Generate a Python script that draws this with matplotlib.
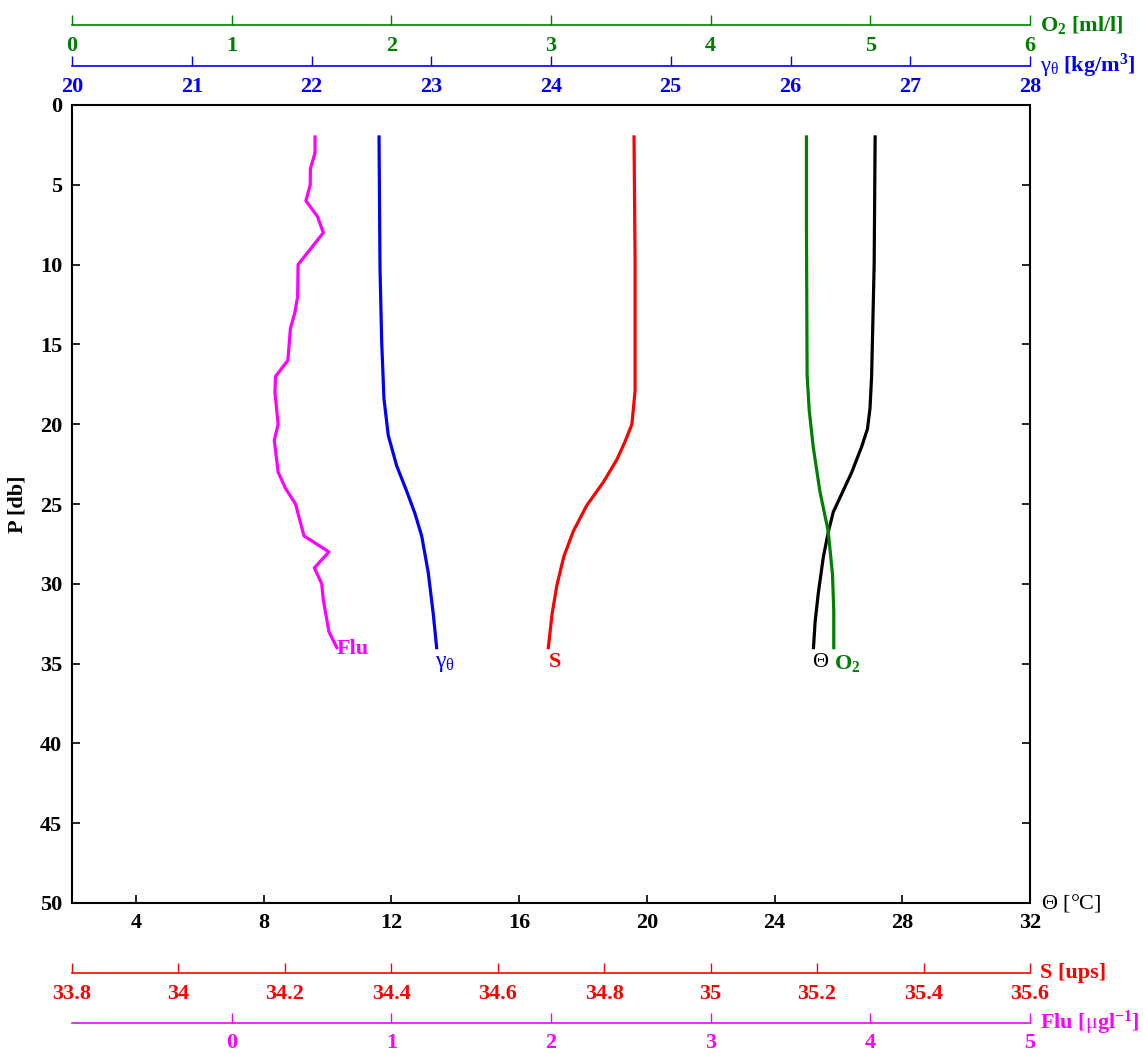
import matplotlib
matplotlib.use("Agg")
import matplotlib.pyplot as plt

plt.rcParams['font.family'] = ['Liberation Serif', 'DejaVu Serif']
plt.rcParams['mathtext.fontset'] = 'custom'
plt.rcParams['mathtext.rm'] = 'Liberation Serif'
plt.rcParams['mathtext.it'] = 'Liberation Serif:italic'
plt.rcParams['mathtext.bf'] = 'Liberation Serif:bold'

# ---------------- data ----------------
# Theta (potential temperature, degC)
theta_p = [2, 10, 17, 19, 20.3, 21.4, 23, 24.6, 25.5, 26.7, 28.3, 30.6, 32.4, 34]
theta_v = [27.15, 27.12, 27.04, 26.99, 26.91, 26.73, 26.42, 26.05, 25.84, 25.69, 25.53, 25.37, 25.27, 25.22]

# O2 (ml/l)
o2_p = [2, 7.7, 16.9, 19.1, 21.4, 24.2, 26.7, 29.4, 31.7, 34]
o2_v = [4.600, 4.600, 4.604, 4.617, 4.642, 4.684, 4.736, 4.763, 4.771, 4.771]

# gamma_theta (kg/m3)
gam_p = [2, 10.2, 14.8, 18.4, 20.7, 22.6, 24.2, 25.6, 27, 29.3, 31.9, 34]
gam_v = [22.564, 22.572, 22.586, 22.605, 22.641, 22.711, 22.795, 22.864, 22.920, 22.975, 23.017, 23.045]

# Salinity (ups)
sal_p = [2, 9.9, 17.9, 20, 21.1, 22.2, 23.6, 25.1, 26.7, 28.3, 30.1, 31.9, 34]
sal_v = [34.856, 34.858, 34.858, 34.852, 34.839, 34.824, 34.799, 34.767, 34.742, 34.724, 34.711, 34.702, 34.695]

# Fluorescence (ug/l)
flu_p = [2, 3, 4, 5, 6, 7, 8, 10, 12, 13, 14, 16, 17, 18, 20, 21, 23, 24, 25, 27, 28, 29, 30, 31, 33, 34]
flu_v = [0.522, 0.522, 0.493, 0.492, 0.465, 0.538, 0.574, 0.416, 0.413, 0.396, 0.368, 0.352, 0.275,
         0.271, 0.291, 0.267, 0.291, 0.336, 0.400, 0.453, 0.609, 0.518, 0.564, 0.574, 0.609, 0.659]

# axis ranges / ticks
theta_lim = (2, 32); theta_ticks = [4, 8, 12, 16, 20, 24, 28, 32]
p_lim = (50, 0); p_ticks = [0, 5, 10, 15, 20, 25, 30, 35, 40, 45, 50]
o2_lim = (0, 6); o2_ticks = [0, 1, 2, 3, 4, 5, 6]
gam_lim = (20, 28); gam_ticks = [20, 21, 22, 23, 24, 25, 26, 27, 28]
sal_lim = (33.8, 35.6); sal_ticks = [33.8, 34, 34.2, 34.4, 34.6, 34.8, 35, 35.2, 35.4, 35.6]
sal_labels = ['33.8', '34', '34.2', '34.4', '34.6', '34.8', '35', '35.2', '35.4', '35.6']
flu_lim = (-1, 5); flu_ticks = [0, 1, 2, 3, 4, 5]

C_O2 = '#008000'
C_GAM = '#0000ff'
C_SAL = '#ff0000'
C_FLU = '#ff00ff'

W, H = 1143, 1054
fig = plt.figure(figsize=(W / 100, H / 100), dpi=100)

L = 72 / W
R = 1030 / W
TOP = 1 - 105 / H
BOT = 1 - 903 / H

FS = 16

ax = fig.add_axes([L, BOT, R - L, TOP - BOT])
ax.set_xlim(*theta_lim)
ax.set_ylim(*p_lim)
ax.set_xticks(theta_ticks)
ax.set_yticks(p_ticks)
ax.tick_params(direction='in', top=True, right=True, length=6, width=1.2, labelsize=FS, pad=7)
for lab in ax.get_xticklabels() + ax.get_yticklabels():
    lab.set_fontweight('bold')
for s in ax.spines.values():
    s.set_linewidth(1.5)
ax.set_ylabel('P [db]', fontsize=FS, fontweight='bold')
ax.yaxis.set_label_coords(-0.046, 0.5)
ax.text(1.012, 0.0, r'$\Theta$ [°C]', transform=ax.transAxes, fontsize=FS, va='center', ha='left')

LW = 2.3
ax.plot(theta_v, theta_p, color='black', lw=LW)


def overlay(lim):
    a = ax.twiny()
    a.set_xlim(*lim)
    a.set_ylim(*p_lim)
    a.axis('off')
    return a


ao2 = overlay(o2_lim)
ao2.plot(o2_v, o2_p, color=C_O2, lw=LW)
agm = overlay(gam_lim)
agm.plot(gam_v, gam_p, color=C_GAM, lw=LW)
asl = overlay(sal_lim)
asl.plot(sal_v, sal_p, color=C_SAL, lw=LW)
afl = overlay(flu_lim)
afl.plot(flu_v, flu_p, color=C_FLU, lw=LW)

# curve end labels
afl.annotate('Flu', (flu_v[-1], flu_p[-1]), xytext=(0, -1), textcoords='offset points',
             color=C_FLU, fontsize=FS, fontweight='bold', ha='left', va='center')
agm.annotate(r'$\mathrm{\gamma_{\theta}}$', (gam_v[-1], gam_p[-1]), xytext=(-1, -4), textcoords='offset points',
             color=C_GAM, fontsize=FS + 1, ha='left', va='top')
asl.annotate('S', (sal_v[-1], sal_p[-1]), xytext=(0, -3), textcoords='offset points',
             color=C_SAL, fontsize=FS, fontweight='bold', ha='left', va='top')
ax.annotate(r'$\Theta$', (theta_v[-1], theta_p[-1]), xytext=(-1, -4), textcoords='offset points',
            color='black', fontsize=FS, ha='left', va='top')
ao2.annotate(r'$\mathbf{O_2}$', (o2_v[-1], o2_p[-1]), xytext=(0, -4), textcoords='offset points',
             color=C_O2, fontsize=FS, ha='left', va='top')


def side_axis(ypix, lim, ticks, color, label, pad, ticklabels=None):
    y = 1 - ypix / H
    a = fig.add_axes([L, y, R - L, 0.0001])
    a.set_xlim(*lim)
    a.set_yticks([])
    for k in ('top', 'left', 'right'):
        a.spines[k].set_visible(False)
    a.spines['bottom'].set_color(color)
    a.spines['bottom'].set_linewidth(1.2)
    a.patch.set_visible(False)
    a.set_xticks(ticks)
    if ticklabels is not None:
        a.set_xticklabels(ticklabels)
    a.tick_params(axis='x', direction='in', length=7, width=1.0, color=color,
                  labelcolor=color, labelsize=FS, pad=pad)
    for lab in a.get_xticklabels():
        lab.set_fontweight('bold')
    a.text(1.01, 0, label, transform=a.transAxes, color=color, fontsize=FS,
           fontweight='bold', ha='left', va='center')
    return a


side_axis(25, o2_lim, o2_ticks, C_O2, r'$\mathbf{O_2}$ [ml/l]', 8)
side_axis(66, gam_lim, gam_ticks, C_GAM, r'$\mathrm{\gamma_{\theta}}$ [kg/m$^{\mathbf{3}}$]', 8)
side_axis(973, sal_lim, sal_ticks, C_SAL, 'S [ups]', 8, ticklabels=sal_labels)
side_axis(1023, flu_lim, flu_ticks, C_FLU, r'Flu [$\mathrm{\mu}$gl$^{\mathbf{-1}}$]', 7)

fig.savefig('out.png', dpi=100)
